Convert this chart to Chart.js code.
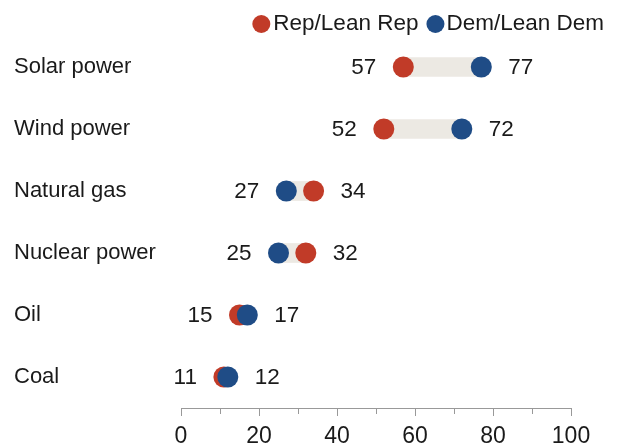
<!DOCTYPE html>
<html>
<head>
<meta charset="utf-8">
<script src="https://cdn.jsdelivr.net/npm/chart.js@4"></script>
<style>
  html, body { margin: 0; padding: 0; background: #fff; }
  #wrap { width: 617px; height: 447px; }
</style>
</head>
<body>
<div id="wrap"><canvas id="dumbbell"></canvas></div>
<script>
const categories = ["Solar power", "Wind power", "Natural gas", "Nuclear power", "Oil", "Coal"];
const repValues = [57, 52, 34, 32, 15, 11];
const demValues = [77, 72, 27, 25, 17, 12];
const seriesNames = ["Rep/Lean Rep", "Dem/Lean Dem"];
const tickLabels = [0, 20, 40, 60, 80, 100];

const repColor = "#C13B28";
const demColor = "#1F4C86";
const fontFamily = "'Liberation Sans', Arial, sans-serif";

let ranges = [];
for (let i = 0; i < categories.length; i++) {
    ranges.push([Math.min(repValues[i], demValues[i]), Math.max(repValues[i], demValues[i])]);
}

// value labels next to the dots + legend in the top right
const labelsPlugin = {
    id: "labelsPlugin",
    afterDatasetsDraw(chart) {
        const ctx = chart.ctx;
        const xs = chart.scales.x;
        const ys = chart.scales.y;
        ctx.save();
        ctx.font = "22.5px " + fontFamily;
        ctx.fillStyle = "#1a1a1a";
        ctx.textBaseline = "middle";
        for (let i = 0; i < categories.length; i++) {
            const y = ys.getPixelForValue(i) + 1;
            ctx.textAlign = "right";
            ctx.fillText(ranges[i][0], xs.getPixelForValue(ranges[i][0]) - 27, y);
            ctx.textAlign = "left";
            ctx.fillText(ranges[i][1], xs.getPixelForValue(ranges[i][1]) + 27, y);
        }

        // legend
        const ly = 24;
        const r = 9;
        const w1 = ctx.measureText(seriesNames[0]).width;
        const w2 = ctx.measureText(seriesNames[1]).width;
        const demText = 604 - w2;
        const demDot = demText - 2 - r;
        const repText = demDot - r - 8 - w1;
        const repDot = repText - 3 - r;
        ctx.textAlign = "left";
        ctx.fillText(seriesNames[0], repText, ly);
        ctx.fillText(seriesNames[1], demText, ly);
        ctx.fillStyle = repColor;
        ctx.beginPath();
        ctx.arc(repDot, ly, r, 0, Math.PI * 2);
        ctx.fill();
        ctx.fillStyle = demColor;
        ctx.beginPath();
        ctx.arc(demDot, ly, r, 0, Math.PI * 2);
        ctx.fill();
        ctx.restore();
    }
};

new Chart(document.getElementById("dumbbell"), {
    type: "bar",
    data: {
        labels: categories,
        datasets: [
            {
                label: "range",
                data: ranges,
                backgroundColor: "#ECE9E3",
                barThickness: 19,
                order: 3
            },
            {
                type: "scatter",
                label: seriesNames[0],
                data: categories.map((c, i) => ({ x: repValues[i], y: c })),
                backgroundColor: repColor,
                borderWidth: 0,
                pointRadius: 10.5,
                order: 2
            },
            {
                type: "scatter",
                label: seriesNames[1],
                data: categories.map((c, i) => ({ x: demValues[i], y: c })),
                backgroundColor: demColor,
                borderWidth: 0,
                pointRadius: 10.5,
                order: 1
            }
        ]
    },
    options: {
        indexAxis: "y",
        responsive: true,
        maintainAspectRatio: false,
        animation: false,
        events: [],
        layout: {
            padding: { left: 14, right: 46, top: 36, bottom: 0 }
        },
        scales: {
            x: {
                type: "linear",
                min: 0,
                max: 100,
                afterFit: s => { s.height = 39; },
                afterBuildTicks: s => {
                    let t = [];
                    for (let v = 0; v <= 100; v += 10) t.push({ value: v });
                    s.ticks = t;
                },
                grid: {
                    display: true,
                    drawOnChartArea: false,
                    tickLength: 8,
                    tickColor: "#999",
                    // minor ticks (every 10) drawn shorter
                    tickBorderDash: c => (c.tick && c.tick.value % 20 !== 0) ? [5, 50] : []
                },
                border: { display: true, color: "#999" },
                ticks: {
                    autoSkip: false,
                    maxRotation: 0,
                    padding: 7,
                    color: "#1a1a1a",
                    font: { family: fontFamily, size: 23 },
                    callback: v => tickLabels.includes(v) ? String(v) : ""
                }
            },
            y: {
                type: "category",
                labels: categories,
                afterFit: s => { s.width = 167; },
                grid: { display: false },
                border: { display: false },
                ticks: {
                    crossAlign: "far",
                    color: "#1a1a1a",
                    font: { family: fontFamily, size: 22 }
                }
            }
        },
        plugins: {
            legend: { display: false },
            tooltip: { enabled: false }
        }
    },
    plugins: [labelsPlugin]
});
</script>
</body>
</html>
